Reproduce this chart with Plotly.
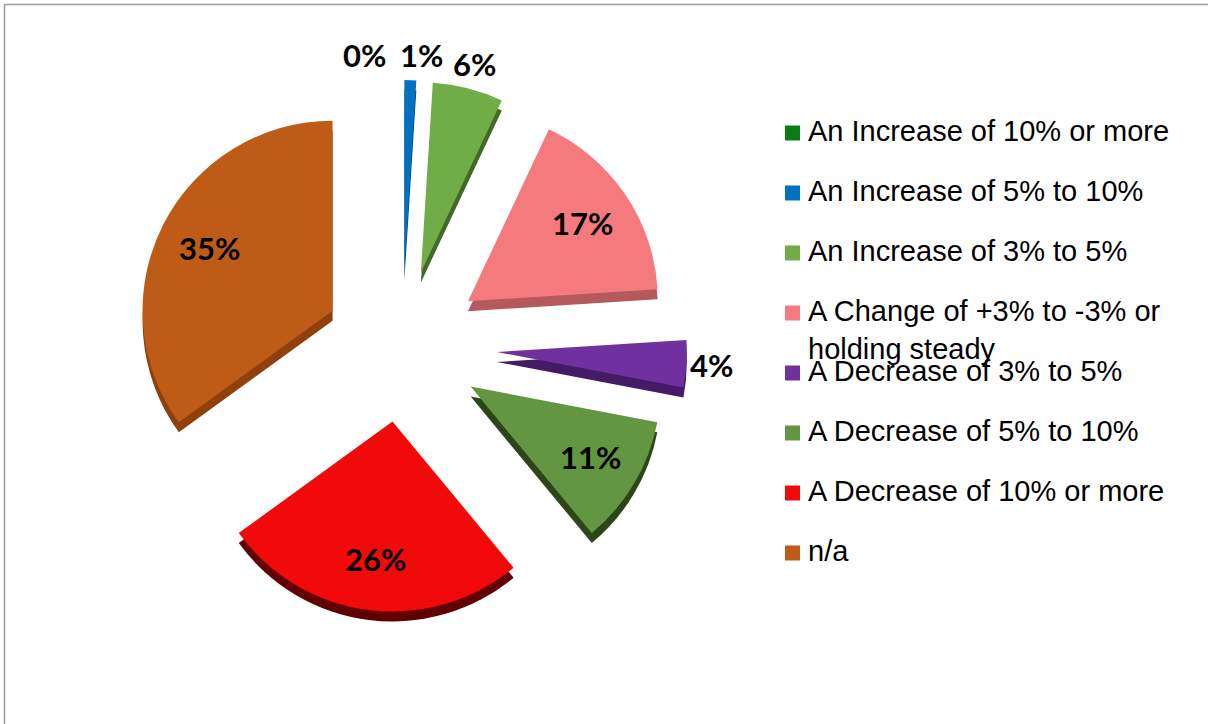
import math
import plotly.graph_objects as go

# Survey response shares (percent), clockwise from 12 o'clock
categories = [
    "An Increase of 10% or more",
    "An Increase of 5% to 10%",
    "An Increase of 3% to 5%",
    "A Change of +3% to -3% or holding steady",
    "A Decrease of 3% to 5%",
    "A Decrease of 5% to 10%",
    "A Decrease of 10% or more",
    "n/a",
]
legend_labels = [
    "An Increase of 10% or more",
    "An Increase of 5% to 10%",
    "An Increase of 3% to 5%",
    "A Change of +3% to -3% or<br>holding steady",
    "A Decrease of 3% to 5%",
    "A Decrease of 5% to 10%",
    "A Decrease of 10% or more",
    "n/a",
]
values = [0, 1, 6, 17, 4, 11, 26, 35]

face_colors = ["#0a7d12", "#0070c0", "#70ad47", "#f47a7e",
               "#7030a0", "#629640", "#f20a0a", "#be5b17"]
side_colors = ["#064a0b", "#004273", "#42682a", "#b45a5c",
               "#451a66", "#2c4619", "#600000", "#8f400d"]
pulls = [0.40, 0.40, 0.40, 0.42, 0.5, 0.42, 0.4, 0.41]
label_outside = [True, True, True, False, True, False, False, False]

W, H = 1208, 724
cx, cy = 402, 346          # pie centre in pixels (from top-left)
half = 285                 # half side of the pie's domain box
depth = 10                 # thickness of the extruded side
radius = half / (1 + max(pulls))   # plotly shrinks the pie to fit the pulls
label_font = dict(family="Lato", size=31, color="black", weight="bold")


def dom(dy=0):
    return dict(
        x=[(cx - half) / W, (cx + half) / W],
        y=[(H - (cy + dy) - half) / H, (H - (cy + dy) + half) / H],
    )


fig = go.Figure()

# darker copy, shifted down, gives the pie its 3-D edge
fig.add_trace(go.Pie(
    labels=categories, values=values, sort=False, direction="clockwise",
    rotation=0, pull=pulls, domain=dom(depth),
    marker=dict(colors=side_colors, line=dict(width=0)),
    textinfo="none", hoverinfo="skip", showlegend=False,
))

fig.add_trace(go.Pie(
    labels=categories, values=values, sort=False, direction="clockwise",
    rotation=0, pull=pulls, domain=dom(0),
    marker=dict(colors=face_colors, line=dict(width=0)),
    textinfo="none", showlegend=False, automargin=False,
))

shapes = []
annotations = []

# percentage labels along each slice's mid-angle
total = sum(values)
cum = 0
prev_empty_x = None
for v, p, out in zip(values, pulls, label_outside):
    theta = 2 * math.pi * (cum + v / 2) / total
    cum += v
    dist = (p + (1.13 if out else 0.73)) * radius
    px = cx + dist * math.sin(theta)
    py = cy - dist * math.cos(theta)
    ann = dict(
        text=f"{v}%", xref="paper", yref="paper", showarrow=False,
        x=px / W, y=1 - py / H, xanchor="center", yanchor="middle",
        font=label_font,
    )
    if v == 0:
        # an empty slice: its label goes to the left of the next one
        ann.update(x=(px - 14) / W, xanchor="right")
        prev_empty_x = px
    elif prev_empty_x is not None:
        ann.update(x=(prev_empty_x - 4) / W, xanchor="left")
        prev_empty_x = None
    annotations.append(ann)

# legend column on the right
lx, ly0, step, fs = 785, 133, 60, 29
for i, (lab, col) in enumerate(zip(legend_labels, face_colors)):
    yc = ly0 + i * step
    shapes.append(dict(
        type="rect", xref="paper", yref="paper",
        x0=lx / W, x1=(lx + 15) / W,
        y0=1 - (yc + 7.5) / H, y1=1 - (yc - 7.5) / H,
        fillcolor=col, line=dict(width=0),
    ))
    annotations.append(dict(
        text=lab, xref="paper", yref="paper", showarrow=False,
        x=(lx + 22) / W, y=1 - (yc - 0.66 * fs) / H,
        xanchor="left", yanchor="top", align="left", borderpad=0,
        font=dict(family="Liberation Sans", size=fs, color="black"),
    ))

# chart area frame
shapes.append(dict(
    type="rect", xref="paper", yref="paper",
    x0=4.5 / W, x1=1.05, y0=-0.05, y1=1 - 4.5 / H,
    line=dict(color="#9a9a9a", width=1.5), fillcolor="rgba(0,0,0,0)",
))

fig.update_layout(
    width=W, height=H,
    margin=dict(l=0, r=0, t=0, b=0, autoexpand=False),
    paper_bgcolor="white", plot_bgcolor="white",
    showlegend=False,
    shapes=shapes, annotations=annotations,
)

fig.write_html("out.html")
